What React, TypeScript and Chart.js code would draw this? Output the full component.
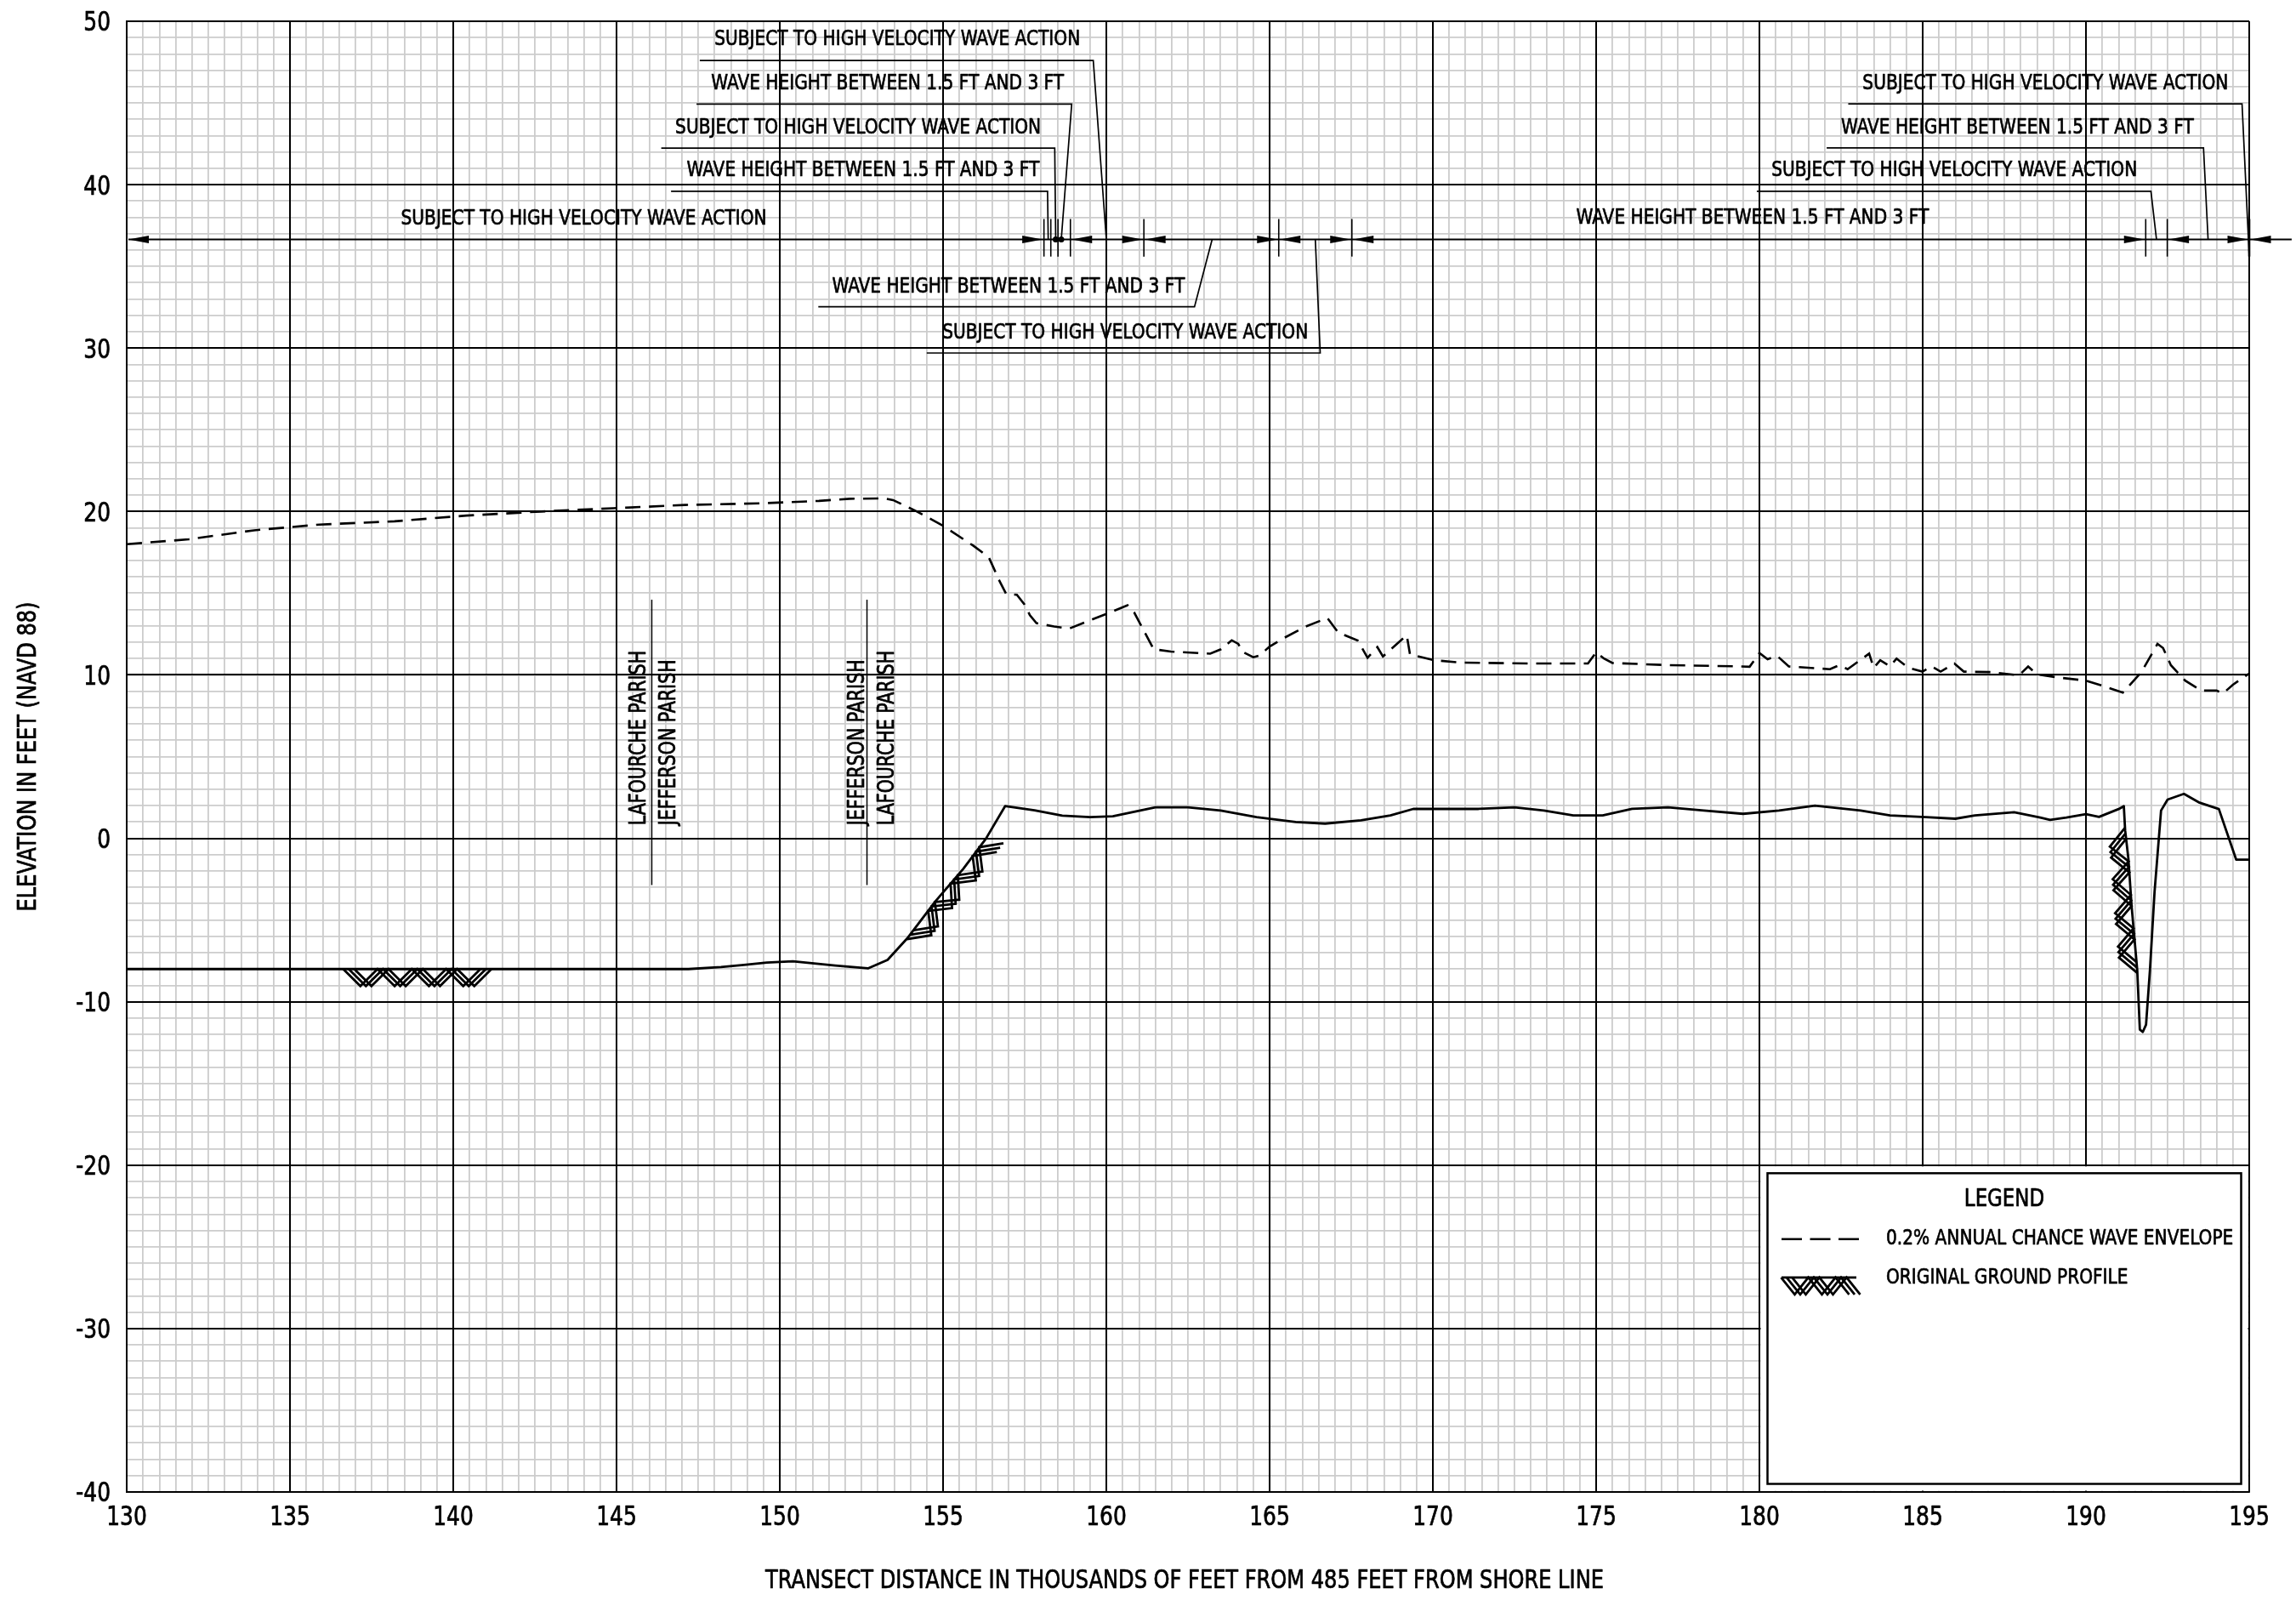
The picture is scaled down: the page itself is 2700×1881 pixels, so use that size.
import React, { useEffect, useRef } from 'react';
import { Chart, registerables } from 'chart.js';

Chart.register(...registerables);

// ---------------- DATA ----------------
const groundX = [130, 147.2, 148.2, 148.9, 149.6, 150.4, 151.7, 152.7, 153.3, 153.9, 154.76, 155.62, 156.31, 156.9, 157.8, 158.65, 159.5, 160.2, 161.5, 162.5, 163.5, 164.6, 165.8, 166.7, 167.8, 168.7, 169.4, 170.5, 171.4, 172.5, 173.4, 174.3, 175.2, 176.1, 177.2, 178.3, 179.5, 180.6, 181.7, 183.1, 184.0, 185.1, 186.0, 186.6, 187.8, 188.6, 188.9, 189.4, 190.0, 190.4, 191.0, 191.16, 191.2, 191.3, 191.4, 191.57, 191.65, 191.74, 191.84, 191.96, 192.1, 192.3, 192.5, 193.0, 193.48, 194.07, 194.6, 195];
const groundY = [-8, -8, -7.88, -7.75, -7.6, -7.53, -7.79, -7.96, -7.44, -6.13, -3.87, -1.86, -0.03, 1.97, 1.71, 1.39, 1.3, 1.35, 1.9, 1.9, 1.7, 1.3, 1.0, 0.9, 1.1, 1.4, 1.8, 1.8, 1.8, 1.9, 1.7, 1.4, 1.4, 1.8, 1.9, 1.7, 1.5, 1.7, 2.0, 1.7, 1.4, 1.3, 1.2, 1.4, 1.6, 1.27, 1.13, 1.27, 1.48, 1.31, 1.79, 1.97, 0.49, -1.25, -4.2, -8.05, -11.7, -11.85, -11.4, -8.05, -3.3, 1.7, 2.37, 2.72, 2.18, 1.79, -1.3, -1.3];

const envelopeX = [130, 131.9, 133.9, 135.9, 138.2, 140.4, 142.7, 144.9, 147.1, 149.4, 151.2, 152.14, 153.2, 153.47, 154.2, 155.0, 155.93, 156.4, 156.73, 156.93, 157.26, 157.5, 157.66, 157.86, 158.4, 158.86, 159.32, 160.12, 160.65, 160.85, 161.45, 161.98, 163.18, 163.51, 163.84, 164.04, 164.18, 164.5, 164.7, 165.0, 165.44, 166.1, 166.77, 167.1, 167.7, 168.0, 168.3, 168.47, 169.2, 169.3, 170.03, 170.9, 173.0, 174.75, 175.0, 175.24, 175.5, 177.2, 179.4, 179.7, 180.0, 180.25, 180.54, 180.9, 182.16, 182.45, 182.7, 183.36, 183.5, 183.7, 184.0, 184.2, 184.56, 184.99, 185.27, 185.55, 185.97, 186.26, 187.1, 187.95, 188.23, 188.5, 189.2, 190.0, 190.56, 191.13, 191.7, 192.19, 192.36, 192.6, 193.04, 193.53, 194.0, 194.2, 194.5, 195.0];
const envelopeY = [18.0, 18.3, 18.85, 19.2, 19.4, 19.75, 20.0, 20.2, 20.4, 20.5, 20.65, 20.78, 20.8, 20.7, 20.0, 19.13, 17.9, 17.2, 15.74, 14.96, 14.9, 14.3, 13.65, 13.17, 12.96, 12.83, 13.2, 13.83, 14.26, 13.83, 11.57, 11.43, 11.3, 11.57, 12.12, 11.9, 11.4, 11.08, 11.2, 11.74, 12.26, 12.96, 13.48, 12.6, 12.1, 11.05, 11.7, 11.13, 12.43, 11.25, 10.9, 10.75, 10.7, 10.7, 11.39, 11.0, 10.73, 10.6, 10.52, 10.5, 11.34, 10.96, 11.17, 10.52, 10.35, 10.6, 10.35, 11.3, 10.43, 10.9, 10.52, 11.0, 10.43, 10.2, 10.52, 10.2, 10.7, 10.2, 10.17, 9.97, 10.52, 10.03, 9.83, 9.65, 9.3, 8.92, 10.17, 11.9, 11.65, 10.6, 9.65, 9.04, 9.04, 8.87, 9.4, 10.09];

// Original ground profile hatch runs (distance, elevation)
const hatchRuns: number[][][] = [
  [[136.8, -8], [141.0, -8]],
  [[154.0, -5.9], [154.76, -3.87], [155.62, -1.86], [156.33, 0.05]],
  [[191.21, 0.3], [191.3, -1.25], [191.4, -4.2], [191.56, -7.9]],
];

// Wave-zone dimension line
const dimLineElevation = 36.65;
const dimLineStart = 130;
const dimLineEnd = 196.3;
const zoneBoundaries = [158.09, 158.3, 158.52, 158.9, 161.15, 165.28, 167.52, 191.83, 192.49, 195.0];
const arrowTipX = [130, 158.09, 158.9, 161.15, 161.15, 165.28, 165.28, 167.52, 167.52, 191.83, 192.49, 195.0, 195.0];
const arrowDir = [-1, 1, -1, 1, -1, 1, -1, 1, -1, 1, -1, 1, -1];

const SUBJ = 'SUBJECT TO HIGH VELOCITY WAVE ACTION';
const WAVE = 'WAVE HEIGHT BETWEEN 1.5 FT AND 3 FT';
const zoneLabels = [SUBJ, WAVE, SUBJ, WAVE, SUBJ, WAVE, SUBJ, SUBJ, WAVE, SUBJ, WAVE];
const zoneLabelX = [148.0, 147.9, 146.8, 147.15, 138.4, 151.6, 154.98, 183.16, 182.5, 180.37, 174.39];
const zoneLabelY = [49.0, 46.3, 43.6, 41.0, 38.05, 33.9, 31.05, 46.33, 43.6, 41.0, 38.1];

const leaderPaths: number[][][] = [
  [[147.55, 47.6], [159.6, 47.6], [160.0, 36.65]],
  [[147.45, 44.93], [158.94, 44.93], [158.62, 36.65]],
  [[146.37, 42.24], [158.42, 42.24], [158.45, 36.65]],
  [[146.67, 39.6], [158.2, 39.6], [158.22, 36.65]],
  [[163.24, 36.65], [162.7, 32.53], [151.18, 32.53]],
  [[166.4, 36.65], [166.55, 29.7], [154.5, 29.7]],
  [[182.72, 44.94], [194.78, 44.94], [195.0, 35.6]],
  [[182.06, 42.25], [193.6, 42.25], [193.74, 36.65]],
  [[179.92, 39.6], [191.99, 39.6], [192.16, 36.65]],
];
const leaderDot = [false, true, true, false, false, false, false, false, false];

// Parish boundaries
const parishLineX = [146.08, 152.67];
const parishLineTop = 14.6;
const parishLineBottom = -2.86;
const parishNames = ['LAFOURCHE PARISH', 'JEFFERSON PARISH', 'JEFFERSON PARISH', 'LAFOURCHE PARISH'];
const parishNameX = [145.65, 146.56, 152.33, 153.24];
const parishNameStartY = 0.8;

const xTitle = 'TRANSECT DISTANCE IN THOUSANDS OF FEET FROM 485 FEET FROM SHORE LINE';
const yTitle = 'ELEVATION IN FEET (NAVD 88)';
const legendTitle = 'LEGEND';
const legendItems = ['0.2% ANNUAL CHANCE WAVE ENVELOPE', 'ORIGINAL GROUND PROFILE'];
const legendCorner = [180, -20, 195, -40];
const xLabelEvery = 5;
const yLabelEvery = 10;

// ---------------- DRAWING ----------------
const FAM = "'Liberation Sans Narrow', 'Arial Narrow', 'DejaVu Sans Condensed', 'Liberation Sans', sans-serif";

const isMult = (v: number, m: number) => Math.abs(v - Math.round(v / m) * m) < 1e-6;

function condFactor(ctx: CanvasRenderingContext2D) {
  ctx.save();
  ctx.font = `25.5px ${FAM}`;
  const w = ctx.measureText(SUBJ).width;
  ctx.restore();
  return w > 0 ? 430 / w : 1;
}

function drawText(ctx: CanvasRenderingContext2D, s: string, x: number, y: number, size: number, align: CanvasTextAlign, rot: number, cond: number) {
  ctx.save();
  ctx.translate(x, y);
  if (rot) ctx.rotate(rot);
  ctx.scale(cond, 1);
  ctx.font = `${size}px ${FAM}`;
  ctx.textAlign = align;
  ctx.textBaseline = 'alphabetic';
  ctx.fillStyle = '#000';
  ctx.strokeStyle = '#000';
  ctx.lineWidth = 0.7;
  ctx.lineJoin = 'round';
  ctx.fillText(s, 0, size * 0.362);
  ctx.strokeText(s, 0, size * 0.362);
  ctx.restore();
}

function drawHatch(ctx: CanvasRenderingContext2D, pts: number[][], depth: number, period: number, gap: number) {
  const segs: { x: number; y: number; ux: number; uy: number; len: number; s0: number }[] = [];
  let total = 0;
  for (let i = 0; i < pts.length - 1; i++) {
    const dx = pts[i + 1][0] - pts[i][0];
    const dy = pts[i + 1][1] - pts[i][1];
    const len = Math.hypot(dx, dy);
    segs.push({ x: pts[i][0], y: pts[i][1], ux: dx / len, uy: dy / len, len, s0: total });
    total += len;
  }
  const at = (s: number) => {
    let sg = segs[0];
    for (const g of segs) if (s >= g.s0) sg = g;
    const t = s - sg.s0;
    return { x: sg.x + sg.ux * t, y: sg.y + sg.uy * t, ux: sg.ux, uy: sg.uy };
  };
  const n = Math.max(2, Math.round(total / (period / 2)));
  const step = total / n;
  ctx.save();
  ctx.strokeStyle = '#000';
  ctx.lineWidth = 2.8;
  ctx.lineJoin = 'miter';
  ctx.lineCap = 'butt';
  for (const off of [0, gap, 2 * gap]) {
    ctx.beginPath();
    for (let k = 0; k <= n; k++) {
      const s = Math.min(k * step, total);
      const p = at(s);
      const d = k % 2 === 0 ? 0 : depth;
      const nx = -p.uy, ny = p.ux;
      const X = p.x + p.ux * (off - gap) + nx * d;
      const Y = p.y + p.uy * (off - gap) + ny * d;
      if (k === 0) ctx.moveTo(X, Y); else ctx.lineTo(X, Y);
    }
    ctx.stroke();
  }
  ctx.restore();
}

function arrowHead(ctx: CanvasRenderingContext2D, tip: number, y: number, dir: number) {
  ctx.beginPath();
  ctx.moveTo(tip, y);
  ctx.lineTo(tip - dir * 24, y - 4.5);
  ctx.lineTo(tip - dir * 24, y + 4.5);
  ctx.closePath();
  ctx.fill();
}

const drawingPlugin = {
  id: 'drawing',
  beforeDatasetsDraw(chart: any) {
    const ctx: CanvasRenderingContext2D = chart.ctx;
    const xs = chart.scales.x, ys = chart.scales.y;
    const a = chart.chartArea;
    ctx.save();
    ctx.strokeStyle = '#000';
    ctx.lineWidth = 2;
    for (const t of xs.ticks) {
      if (!isMult(t.value, xLabelEvery)) continue;
      const X = Math.round(xs.getPixelForValue(t.value));
      ctx.beginPath(); ctx.moveTo(X, a.top); ctx.lineTo(X, a.bottom); ctx.stroke();
    }
    for (const t of ys.ticks) {
      if (!isMult(t.value, yLabelEvery)) continue;
      const Y = Math.round(ys.getPixelForValue(t.value));
      ctx.beginPath(); ctx.moveTo(a.left, Y); ctx.lineTo(a.right, Y); ctx.stroke();
    }
    // legend box blanks out the grid
    const lx0 = xs.getPixelForValue(legendCorner[0]);
    const ly0 = ys.getPixelForValue(legendCorner[1]);
    const lx1 = xs.getPixelForValue(legendCorner[2]);
    const ly1 = ys.getPixelForValue(legendCorner[3]);
    ctx.fillStyle = '#fff';
    ctx.fillRect(lx0 + 1.5, ly0 + 1.5, lx1 - lx0 - 3, ly1 - ly0 - 3);
    ctx.restore();
  },
  afterDraw(chart: any) {
    const ctx: CanvasRenderingContext2D = chart.ctx;
    const xs = chart.scales.x, ys = chart.scales.y;
    const a = chart.chartArea;
    const px = (v: number) => xs.getPixelForValue(v);
    const py = (v: number) => ys.getPixelForValue(v);
    const cond = condFactor(ctx);
    ctx.save();
    ctx.fillStyle = '#000';
    ctx.strokeStyle = '#000';

    // tick labels from the scales' own ticks
    for (const t of xs.ticks) {
      if (!isMult(t.value, xLabelEvery)) continue;
      drawText(ctx, String(Math.round(t.value)), px(t.value), a.bottom + 27.5, 31.5, 'center', 0, cond);
    }
    for (const t of ys.ticks) {
      if (!isMult(t.value, yLabelEvery)) continue;
      drawText(ctx, String(Math.round(t.value)), a.left - 19, py(t.value), 31.5, 'right', 0, cond);
    }

    // hatches
    for (const run of hatchRuns) {
      drawHatch(ctx, run.map(p => [px(p[0]), py(p[1])]), 20, 40, 6.5);
    }

    // parish lines & names
    ctx.lineWidth = 1.5;
    for (const x of parishLineX) {
      ctx.beginPath(); ctx.moveTo(px(x), py(parishLineTop)); ctx.lineTo(px(x), py(parishLineBottom)); ctx.stroke();
    }
    parishNames.forEach((s, i) => drawText(ctx, s, px(parishNameX[i]), py(parishNameStartY), 26, 'left', -Math.PI / 2, cond));

    // dimension line
    const dy = py(dimLineElevation);
    ctx.lineWidth = 2;
    ctx.beginPath(); ctx.moveTo(px(dimLineStart) + 2, dy); ctx.lineTo(px(dimLineEnd), dy); ctx.stroke();
    zoneBoundaries.forEach((b) => {
      ctx.lineWidth = b === 195 ? 2.6 : 1.6;
      ctx.beginPath(); ctx.moveTo(px(b), py(37.9)); ctx.lineTo(px(b), py(35.6)); ctx.stroke();
    });
    arrowTipX.forEach((x, i) => {
      const d = arrowDir[i];
      const tip = x === dimLineStart ? px(x) + 2 : px(x) - d * 1.5;
      arrowHead(ctx, tip, dy, d);
    });
    ctx.lineWidth = 1.7;
    leaderPaths.forEach((path, i) => {
      ctx.beginPath();
      path.forEach((p, k) => (k === 0 ? ctx.moveTo(px(p[0]), py(p[1])) : ctx.lineTo(px(p[0]), py(p[1]))));
      ctx.stroke();
      if (leaderDot[i]) {
        const e = path[path.length - 1];
        ctx.beginPath(); ctx.arc(px(e[0]), py(e[1]), 3.5, 0, Math.PI * 2); ctx.fill();
      }
    });
    zoneLabels.forEach((s, i) => drawText(ctx, s, px(zoneLabelX[i]), py(zoneLabelY[i]), 25.5, 'left', 0, cond));

    // legend
    const lx0 = px(legendCorner[0]);
    const ly0 = py(legendCorner[1]);
    const lx1 = px(legendCorner[2]);
    const ly1 = py(legendCorner[3]);
    ctx.lineWidth = 2.5;
    ctx.strokeRect(lx0 + 9.5, ly0 + 9.5, lx1 - lx0 - 19, ly1 - ly0 - 19);
    drawText(ctx, legendTitle, (lx0 + lx1) / 2, ly0 + 38, 29, 'center', 0, cond);
    ctx.lineWidth = 2.6;
    ctx.setLineDash([24, 9.5]);
    ctx.beginPath(); ctx.moveTo(lx0 + 26, ly0 + 87); ctx.lineTo(lx0 + 117, ly0 + 87); ctx.stroke();
    ctx.setLineDash([]);
    drawText(ctx, legendItems[0], lx0 + 149, ly0 + 84, 25.5, 'left', 0, cond);
    ctx.lineWidth = 2.8;
    ctx.beginPath(); ctx.moveTo(lx0 + 26, ly0 + 132); ctx.lineTo(lx0 + 114, ly0 + 132); ctx.stroke();
    drawHatch(ctx, [[lx0 + 32, ly0 + 132], [lx0 + 112, ly0 + 132]], 20, 32, 6.5);
    drawText(ctx, legendItems[1], lx0 + 149, ly0 + 130, 25.5, 'left', 0, cond);

    // axis titles
    drawText(ctx, xTitle, (a.left + a.right) / 2 - 4, 1856, 30.5, 'center', 0, cond);
    drawText(ctx, yTitle, 31, (a.top + a.bottom) / 2, 30.5, 'center', -Math.PI / 2, cond);
    ctx.restore();
  },
};

export default function App() {
  const ref = useRef<HTMLCanvasElement>(null);
  useEffect(() => {
    document.body.style.margin = '0';
    document.body.style.overflow = 'hidden';
    const canvas = ref.current!;
    const chart = new Chart(canvas, {
      type: 'line',
      data: {
        datasets: [
          {
            label: 'Original ground profile',
            data: groundX.map((x, i) => ({ x, y: groundY[i] })),
            borderColor: '#000',
            borderWidth: 2.8,
            pointRadius: 0,
            fill: false,
            tension: 0,
            borderJoinStyle: 'round',
          },
          {
            label: '0.2% annual chance wave envelope',
            data: envelopeX.map((x, i) => ({ x, y: envelopeY[i] })),
            borderColor: '#000',
            borderWidth: 2.6,
            borderDash: [18, 10],
            pointRadius: 0,
            fill: false,
            tension: 0,
          },
        ],
      },
      options: {
        animation: false,
        responsive: false,
        devicePixelRatio: 1,
        layout: { padding: { top: 25, right: 55, left: 0, bottom: 0 } },
        plugins: { legend: { display: false }, tooltip: { enabled: false } },
        scales: {
          x: {
            type: 'linear',
            min: 130,
            max: 195,
            afterFit: (s: any) => { s.height = 127; s.paddingLeft = 0; s.paddingRight = 0; },
            ticks: { stepSize: 0.5, autoSkip: false, display: false },
            grid: { color: '#cccccc', lineWidth: 1.8, drawTicks: false },
            border: { display: true, color: '#000', width: 2 },
          },
          y: {
            type: 'linear',
            min: -40,
            max: 50,
            afterFit: (s: any) => { s.width = 149; s.paddingTop = 0; s.paddingBottom = 0; },
            ticks: { stepSize: 1, autoSkip: false, display: false },
            grid: { color: '#cccccc', lineWidth: 1.8, drawTicks: false },
            border: { display: true, color: '#000', width: 2 },
          },
        },
      } as any,
      plugins: [drawingPlugin],
    });
    return () => chart.destroy();
  }, []);
  return <canvas ref={ref} width={2700} height={1881} style={{ display: 'block', width: 2700, height: 1881 }} />;
}
